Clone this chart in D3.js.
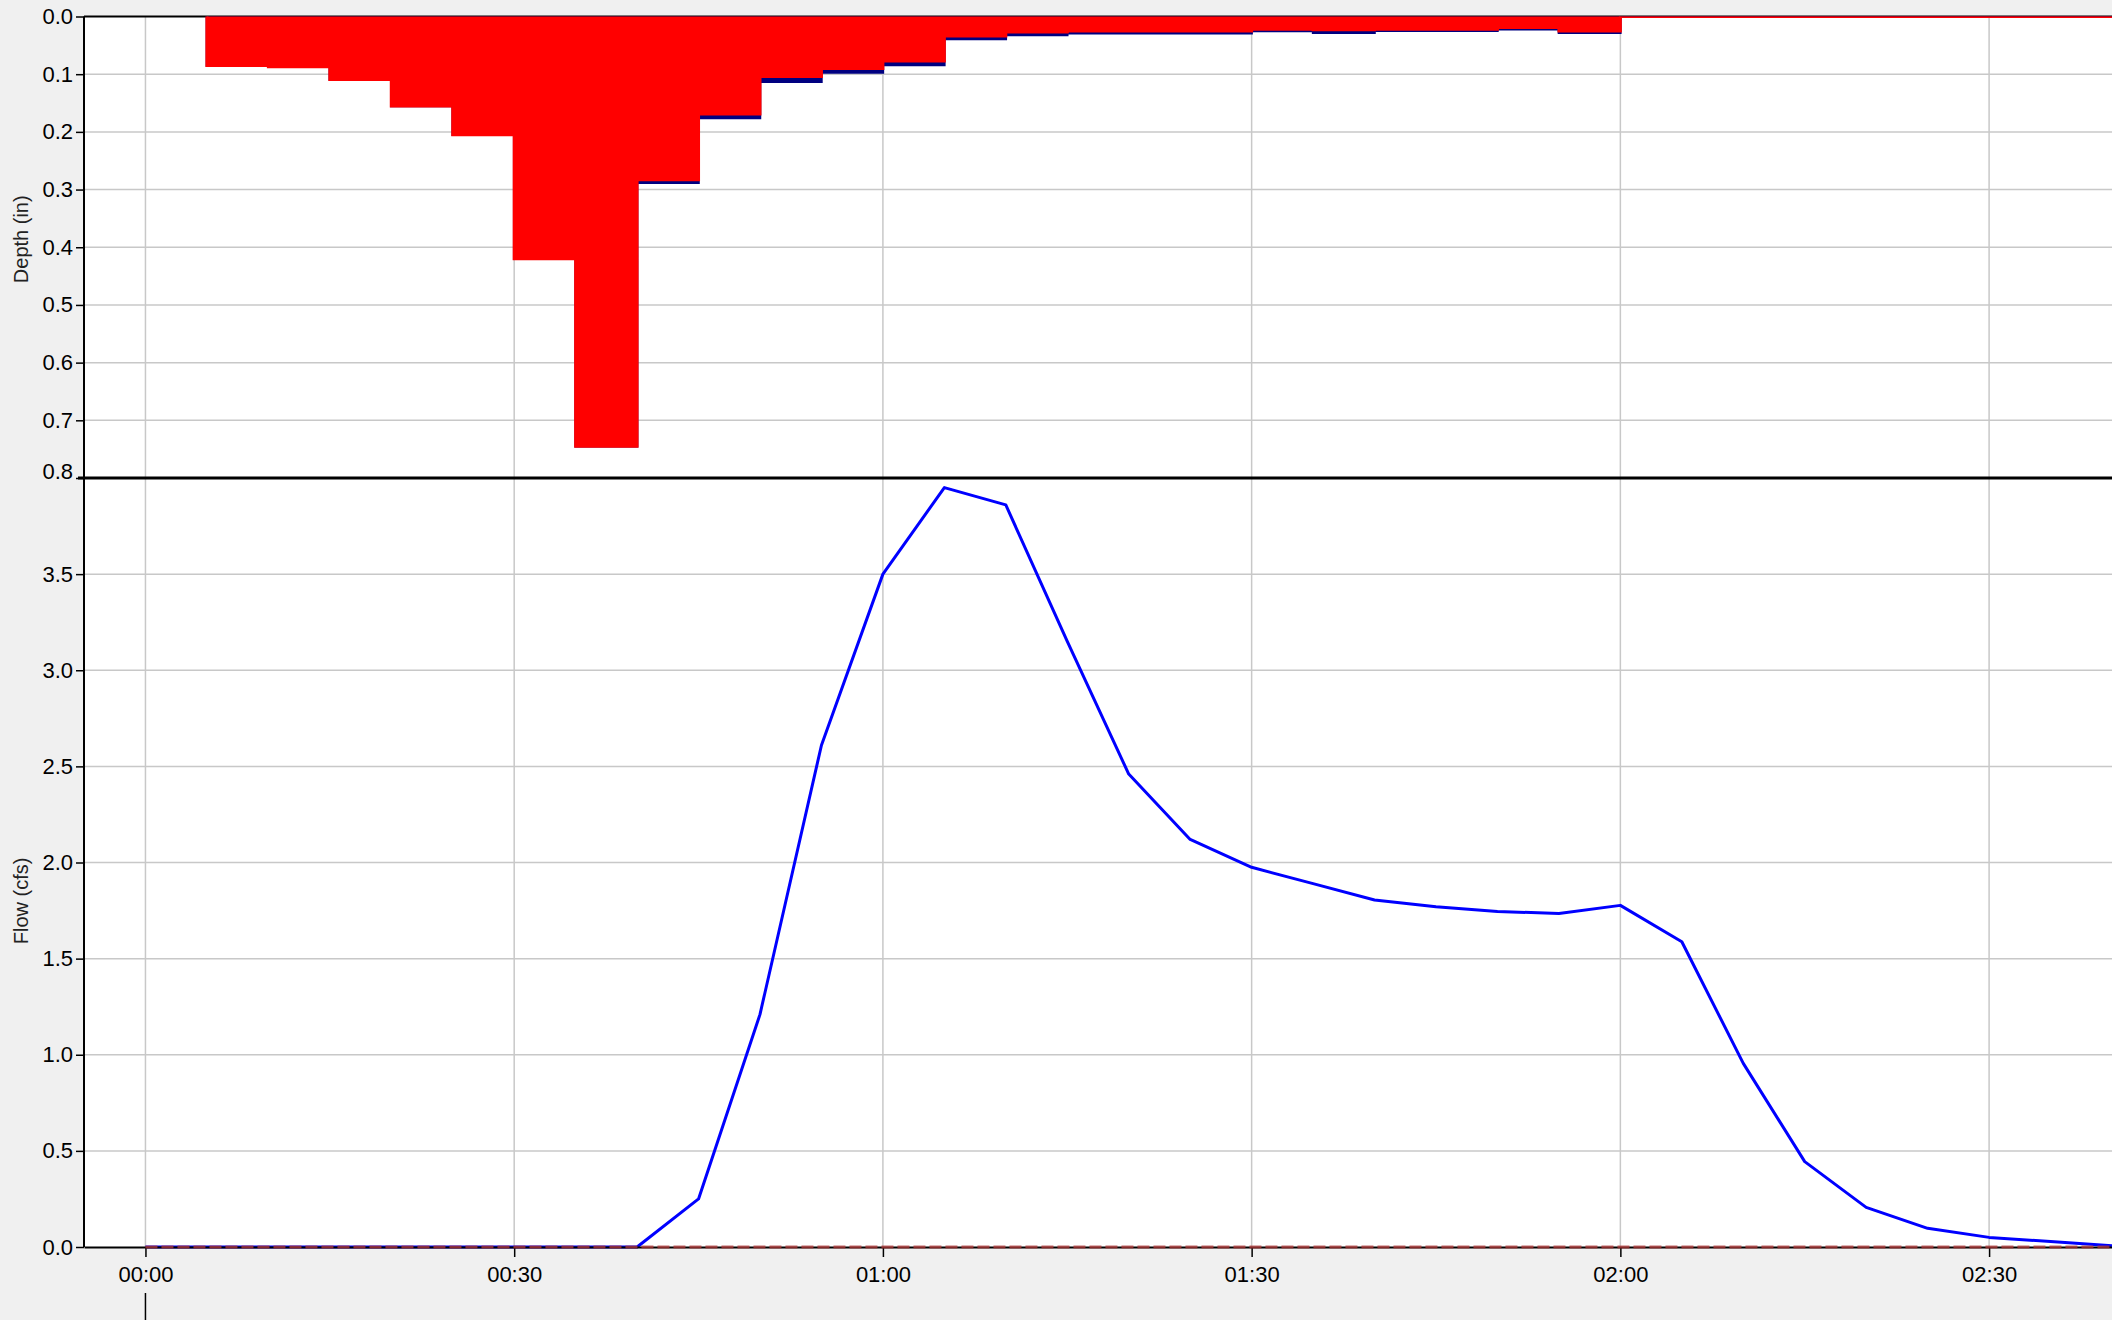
<!DOCTYPE html>
<html>
<head>
<meta charset="utf-8">
<script src="https://cdn.jsdelivr.net/npm/d3@7"></script>
<style>
  html, body { margin: 0; padding: 0; background: #f0f0f0; }
  svg { display: block; font-family: "Liberation Sans", Arial, sans-serif; }
  .tick text { fill: #000; }
</style>
</head>
<body>
<div id="chart"></div>
<script>
// rainfall depth per 5-minute interval (start time in minutes)
const rainTimes = [5, 10, 15, 20, 25, 30, 35, 40, 45, 50, 55, 60, 65, 70, 75, 80, 85, 90, 95, 100, 105, 110, 115, 120, 160];
const rainDepth = [0.085, 0.087, 0.109, 0.155, 0.205, 0.420, 0.745, 0.283, 0.169, 0.104, 0.090, 0.077, 0.034, 0.027, 0.025, 0.025, 0.025, 0.022, 0.023, 0.022, 0.022, 0.019, 0.025, 0, 0];
// second depth series (navy, mostly hidden under the red)
const netDepth = [0.085, 0.087, 0.109, 0.155, 0.205, 0.420, 0.745, 0.288, 0.176, 0.113, 0.097, 0.084, 0.039, 0.032, 0.029, 0.029, 0.029, 0.025, 0.028, 0.0245, 0.0245, 0.022, 0.028, 0, 0];

// runoff hydrograph (minutes, cfs)
const flowTimes = [0, 5, 10, 15, 20, 25, 30, 35, 40, 45, 50, 55, 60, 65, 70, 75, 80, 85, 90, 95, 100, 105, 110, 115, 120, 125, 130, 135, 140, 145, 150, 155, 160];
const flowValues = [0, 0, 0, 0, 0, 0, 0, 0, 0, 0.25, 1.21, 2.61, 3.50, 3.95, 3.86, 3.15, 2.46, 2.12, 1.975, 1.89, 1.805, 1.77, 1.745, 1.735, 1.777, 1.588, 0.955, 0.444, 0.206, 0.097, 0.05, 0.028, 0.007];
// observed flow (flat zero, dashed)
const obsTimes = [0, 160];
const obsValues = [0, 0];

// axis ticks
const xTickValues = [0, 30, 60, 90, 120, 150];
const xTickLabels = ["00:00", "00:30", "01:00", "01:30", "02:00", "02:30"];
const depthTicks = [0, 0.1, 0.2, 0.3, 0.4, 0.5, 0.6, 0.7, 0.8];
const flowTicks = [0, 0.5, 1.0, 1.5, 2.0, 2.5, 3.0, 3.5];

const width = 2112, height = 1320;
const plotLeft = 84, plotRight = 2112, plotTop = 16.5, split = 478, plotBottom = 1247;

const svg = d3.select("#chart").append("svg")
  .attr("width", width)
  .attr("height", height);

svg.append("rect").attr("width", width).attr("height", height).attr("fill", "#f0f0f0");
svg.append("rect")
  .attr("x", plotLeft).attr("y", plotTop)
  .attr("width", plotRight - plotLeft).attr("height", plotBottom - plotTop)
  .attr("fill", "#fff");

// scales
const x = d3.scaleLinear().domain([-5, 160]).range([plotLeft, plotRight]);
const yDepth = d3.scaleLinear().domain([0, 0.8]).range([plotTop, split]);
const yFlow = d3.scaleLinear().domain([0, 4.0]).range([plotBottom, split]);

// grid lines
const grid = svg.append("g").attr("stroke", "#c8c8c8").attr("stroke-width", 1.5);
grid.selectAll(".vg").data(xTickValues).join("line")
  .attr("x1", d => x(d)).attr("x2", d => x(d))
  .attr("y1", plotTop).attr("y2", plotBottom);
grid.selectAll(".dg").data(depthTicks.slice(1, -1)).join("line")
  .attr("x1", plotLeft).attr("x2", plotRight)
  .attr("y1", d => yDepth(d)).attr("y2", d => yDepth(d));
grid.selectAll(".fg").data(flowTicks.slice(1)).join("line")
  .attr("x1", plotLeft).attr("x2", plotRight)
  .attr("y1", d => yFlow(d)).attr("y2", d => yFlow(d));

// top border
svg.append("line")
  .attr("x1", plotLeft).attr("x2", plotRight).attr("y1", plotTop).attr("y2", plotTop)
  .attr("stroke", "#000").attr("stroke-width", 2);

// clip for the rain panel
svg.append("clipPath").attr("id", "rainClip")
  .append("rect").attr("x", plotLeft).attr("y", plotTop)
  .attr("width", plotRight - plotLeft).attr("height", split - plotTop);

const rainG = svg.append("g").attr("clip-path", "url(#rainClip)");

const rainData = rainTimes.map((t, i) => ({ t, red: rainDepth[i], navy: netDepth[i] }));

const areaFor = key => d3.area()
  .curve(d3.curveStepAfter)
  .x(d => x(d.t))
  .y0(yDepth(0) - 4)
  .y1(d => yDepth(d[key]));

rainG.append("path")
  .datum(rainData)
  .attr("d", areaFor("navy"))
  .attr("fill", "#000080")
  .attr("stroke", "#000080")
  .attr("stroke-width", 2.5);

rainG.append("path")
  .datum(rainData)
  .attr("d", areaFor("red"))
  .attr("fill", "#ff0000")
  .attr("stroke", "#ff0000")
  .attr("stroke-width", 3);

// flow line
const flowData = flowTimes.map((t, i) => ({ t, v: flowValues[i] }));
const line = d3.line().x(d => x(d.t)).y(d => yFlow(d.v));

svg.append("path")
  .datum(flowData)
  .attr("d", line)
  .attr("fill", "none")
  .attr("stroke", "#0000ff")
  .attr("stroke-width", 3)
  .attr("stroke-linejoin", "round");

// axes
const xAxis = svg.append("g")
  .attr("transform", `translate(0,${plotBottom})`)
  .call(d3.axisBottom(x)
    .tickValues(xTickValues)
    .tickFormat((d, i) => xTickLabels[i])
    .tickSize(10)
    .tickPadding(9)
    .tickSizeOuter(0));
xAxis.select(".domain").attr("stroke", "#000").attr("stroke-width", 2);
xAxis.selectAll(".tick line").attr("stroke", "#000").attr("stroke-width", 1.5);
xAxis.selectAll("text").attr("font-size", "22px").attr("font-family", "Liberation Sans, Arial, sans-serif");

// observed flow dashed on top of the axis
const obsData = obsTimes.map((t, i) => ({ t, v: obsValues[i] }));
svg.append("path")
  .datum(obsData)
  .attr("d", line)
  .attr("fill", "none")
  .attr("stroke", "#b03838")
  .attr("stroke-opacity", 0.75)
  .attr("stroke-width", 3)
  .attr("stroke-dasharray", "12,4");

const depthAxis = svg.append("g")
  .attr("transform", `translate(${plotLeft},0)`)
  .call(d3.axisLeft(yDepth)
    .tickValues(depthTicks)
    .tickFormat(d3.format(".1f"))
    .tickSize(8)
    .tickPadding(3)
    .tickSizeOuter(0));
depthAxis.select(".domain").remove();
depthAxis.selectAll(".tick line").attr("stroke", "#000").attr("stroke-width", 1.5);
depthAxis.selectAll("text")
  .attr("font-size", "22px")
  .attr("font-family", "Liberation Sans, Arial, sans-serif")
  .attr("dy", d => d === 0.8 ? "0.0em" : "0.32em");

const flowAxis = svg.append("g")
  .attr("transform", `translate(${plotLeft},0)`)
  .call(d3.axisLeft(yFlow)
    .tickValues(flowTicks)
    .tickFormat(d3.format(".1f"))
    .tickSize(8)
    .tickPadding(3)
    .tickSizeOuter(0));
flowAxis.select(".domain").remove();
flowAxis.selectAll(".tick line").attr("stroke", "#000").attr("stroke-width", 1.5);
flowAxis.selectAll("text")
  .attr("font-size", "22px")
  .attr("font-family", "Liberation Sans, Arial, sans-serif");

// left axis line over the whole height
svg.append("line")
  .attr("x1", plotLeft).attr("x2", plotLeft).attr("y1", plotTop).attr("y2", plotBottom)
  .attr("stroke", "#000").attr("stroke-width", 2);

// separator between panels
svg.append("line")
  .attr("x1", plotLeft - 6).attr("x2", plotRight).attr("y1", split).attr("y2", split)
  .attr("stroke", "#000").attr("stroke-width", 3);

// axis titles
svg.append("text")
  .attr("transform", `translate(28,${(plotTop + split) / 2 - 8}) rotate(-90)`)
  .attr("text-anchor", "middle")
  .attr("font-size", "20px")
  .attr("fill", "#222")
  .text("Depth (in)");

svg.append("text")
  .attr("transform", `translate(28,${yFlow(1.8)}) rotate(-90)`)
  .attr("text-anchor", "middle")
  .attr("font-size", "20px")
  .attr("fill", "#222")
  .text("Flow (cfs)");

// time cursor under the start
svg.append("line")
  .attr("x1", x(0)).attr("x2", x(0))
  .attr("y1", 1293).attr("y2", height)
  .attr("stroke", "#000").attr("stroke-width", 1.5);
</script>
</body>
</html>
